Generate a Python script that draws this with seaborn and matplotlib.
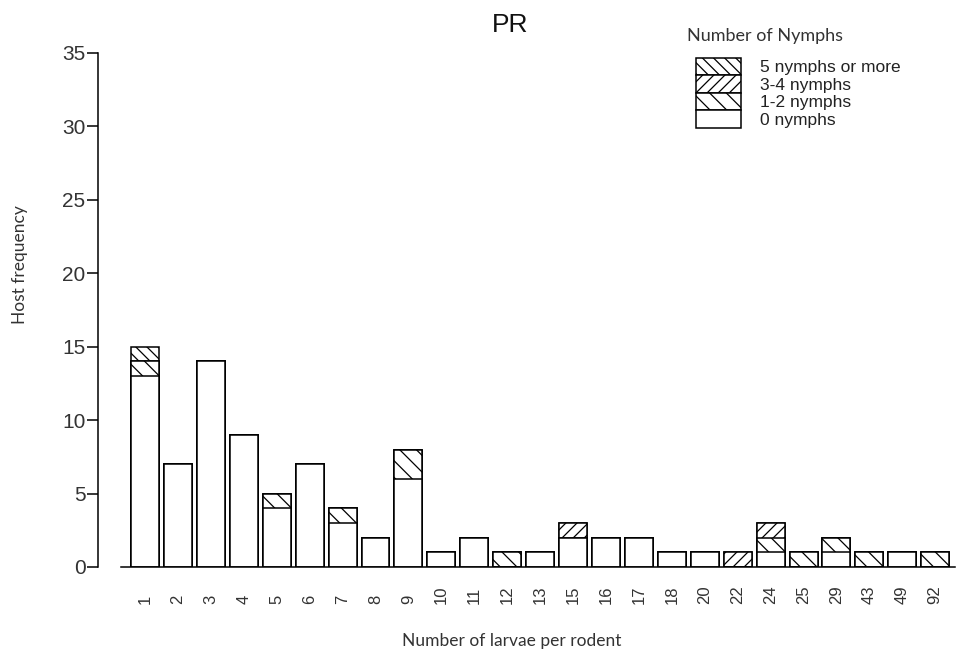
import matplotlib
matplotlib.use('Agg')
import matplotlib.pyplot as plt
import seaborn as sns
import pandas as pd
import numpy as np
from matplotlib.patches import Patch

# ---- data ----
categories = ['1', '2', '3', '4', '5', '6', '7', '8', '9', '10', '11', '12', '13',
              '15', '16', '17', '18', '20', '22', '24', '25', '29', '43', '49', '92']
nymphs_0 = [13, 7, 14, 9, 4, 7, 3, 2, 6, 1, 2, 0, 1, 2, 2, 2, 1, 1, 0, 1, 0, 1, 0, 1, 0]
nymphs_1_2 = [1, 0, 0, 0, 1, 0, 1, 0, 2, 0, 0, 1, 0, 0, 0, 0, 0, 0, 0, 1, 1, 1, 1, 0, 1]
nymphs_3_4 = [0, 0, 0, 0, 0, 0, 0, 0, 0, 0, 0, 0, 0, 1, 0, 0, 0, 0, 1, 1, 0, 0, 0, 0, 0]
nymphs_5p = [1, 0, 0, 0, 0, 0, 0, 0, 0, 0, 0, 0, 0, 0, 0, 0, 0, 0, 0, 0, 0, 0, 0, 0, 0]
series_labels = ['0 nymphs', '1-2 nymphs', '3-4 nymphs', '5 nymphs or more']
y_ticks = [0, 5, 10, 15, 20, 25, 30, 35]

# ---- style ----
sns.set_theme(style='white')
plt.rcParams['font.family'] = ['Liberation Sans', 'DejaVu Sans']
plt.rcParams['hatch.linewidth'] = 0.9
plt.rcParams['hatch.color'] = 'black'

hatches = ['', '\\\\', '///', '\\\\\\']

layers = [nymphs_0, nymphs_1_2, nymphs_3_4, nymphs_5p]
cum = np.cumsum(np.array(layers), axis=0)
df = pd.DataFrame({'larvae': categories})
for i, lab in enumerate(series_labels):
    df[lab] = cum[i]

fig = plt.figure(figsize=(9.56, 6.53), dpi=100)
ax = fig.add_axes([98 / 956, 1 - 567 / 653, 857 / 956, (567 - 53) / 653])

# draw from the top layer down so lower layers overlay upper ones
for i in range(len(series_labels) - 1, -1, -1):
    sns.barplot(data=df, x='larvae', y=series_labels[i], order=categories,
                color='white', saturation=1, edgecolor='black', linewidth=1.1,
                hatch=hatches[i], width=0.85, errorbar=None, ax=ax)

ax.set_xlim(-1.428, 24.6)
ax.set_ylim(0, 35)
ax.set_yticks(y_ticks)
ax.set_xlabel('')
ax.set_ylabel('')

for s in ['top', 'right']:
    ax.spines[s].set_visible(False)
ax.spines['left'].set_bounds(0, 35)
ax.spines['bottom'].set_bounds(-0.72, 24.6)
for s in ['left', 'bottom']:
    ax.spines[s].set_color('black')
    ax.spines[s].set_linewidth(1.1)

ax.tick_params(axis='y', length=8, width=1.1, color='black', pad=1,
               labelsize=15, labelcolor='#333333', left=True)
ax.tick_params(axis='x', length=0, pad=26.6, labelsize=12,
               labelcolor='#333333', labelrotation=90)
for t in ax.get_xticklabels():
    t.set_verticalalignment('bottom')

# title and axis labels
fig.text(510 / 956, 1 - 25 / 653, 'PR', fontsize=19, ha='center', va='center',
         color='#111111')
fig.text(512 / 956, 1 - 641 / 653, 'Number of larvae per rodent', fontsize=12.5,
         family=['Lato', 'DejaVu Sans'], ha='center', va='center', color='#333333')
fig.text(20 / 956, 1 - 265 / 653, 'Host frequency', fontsize=12.5, rotation=90,
         family=['Lato', 'DejaVu Sans'], ha='center', va='center', color='#333333')

# legend
handles = [Patch(facecolor='white', edgecolor='black', linewidth=1.1, hatch=hatches[i],
                 label=series_labels[i]) for i in range(len(series_labels) - 1, -1, -1)]
fig.text(687 / 956, 1 - 36 / 653, 'Number of Nymphs', fontsize=13,
         family=['Lato', 'DejaVu Sans'], ha='left', va='center', color='#333333')
leg = ax.legend(handles=handles, loc='upper left',
                bbox_to_anchor=(696 / 956, 1 - 58 / 653), bbox_transform=fig.transFigure,
                frameon=False, fontsize=12.5, handlelength=2.6, handleheight=1.15,
                handletextpad=1.1, labelspacing=0, borderpad=0, borderaxespad=0)
for t in leg.get_texts():
    t.set_color('#222222')

fig.savefig('out.png', dpi=100)
